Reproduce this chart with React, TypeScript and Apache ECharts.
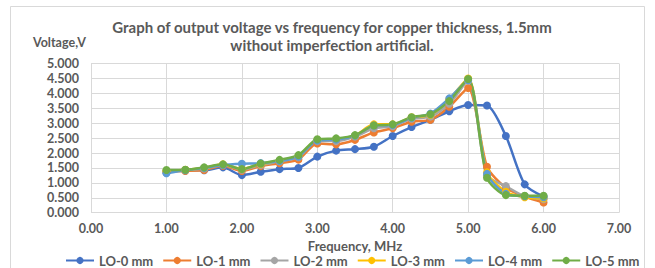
import React, { useEffect, useRef } from "react";
import * as echarts from "echarts";

const freq = [1.0, 1.25, 1.5, 1.75, 2.0, 2.25, 2.5, 2.75, 3.0, 3.25, 3.5, 3.75, 4.0, 4.25, 4.5, 4.75, 5.0, 5.25, 5.5, 5.75, 6.0];
const lo0 = [1.34, 1.43, 1.42, 1.52, 1.26, 1.37, 1.46, 1.5, 1.88, 2.08, 2.13, 2.21, 2.57, 2.87, 3.11, 3.4, 3.61, 3.59, 2.57, 0.95, 0.54];
const lo1 = [1.38, 1.4, 1.43, 1.57, 1.4, 1.56, 1.66, 1.78, 2.32, 2.29, 2.44, 2.69, 2.83, 3.05, 3.11, 3.55, 4.18, 1.54, 0.83, 0.54, 0.34];
const lo2 = [1.4, 1.43, 1.48, 1.6, 1.44, 1.6, 1.72, 1.86, 2.4, 2.4, 2.55, 2.83, 2.9, 3.15, 3.22, 3.65, 4.42, 1.25, 0.89, 0.55, 0.45];
const lo3 = [1.4, 1.44, 1.5, 1.62, 1.47, 1.63, 1.74, 1.9, 2.44, 2.46, 2.58, 2.96, 2.96, 3.2, 3.28, 3.8, 4.5, 1.35, 0.7, 0.52, 0.48];
const lo4 = [1.32, 1.42, 1.5, 1.6, 1.64, 1.66, 1.73, 1.88, 2.42, 2.45, 2.58, 2.92, 2.94, 3.18, 3.32, 3.83, 4.45, 1.3, 0.63, 0.55, 0.52];
const lo5 = [1.43, 1.44, 1.52, 1.62, 1.46, 1.65, 1.77, 1.93, 2.46, 2.49, 2.6, 2.92, 2.96, 3.2, 3.3, 3.74, 4.48, 1.17, 0.59, 0.57, 0.57];

const seriesNames = ["LO-0 mm", "LO-1 mm", "LO-2 mm", "LO-3 mm", "LO-4 mm", "LO-5 mm"];
const seriesData = [lo0, lo1, lo2, lo3, lo4, lo5];
const colors = ["#4472C4", "#ED7D31", "#A5A5A5", "#FFC000", "#5B9BD5", "#70AD47"];

const FONT = "Lato, 'Open Sans', sans-serif";
const GRAY = "#595959";

export default function App() {
  const ref = useRef<HTMLDivElement>(null);
  useEffect(() => {
    if (!ref.current) return;
    const chart = echarts.init(ref.current, undefined, { renderer: "svg" });
    chart.setOption({
      animation: false,
      backgroundColor: "#ffffff",
      textStyle: { fontFamily: FONT },
      title: {
        text: "Graph of output voltage vs frequency for copper thickness, 1.5mm\nwithout imperfection artificial.",
        left: 327,
        textAlign: "center",
        top: 13,
        textStyle: { fontSize: 15, fontWeight: "bold", color: GRAY, lineHeight: 18, fontFamily: FONT },
      },
      legend: {
        top: 249,
        left: 60,
        itemWidth: 28,
        itemHeight: 9,
        itemGap: 9,
        textStyle: { fontSize: 13, color: GRAY, fontWeight: "bold", fontFamily: FONT },
        data: seriesNames,
      },
      graphic: [
        {
          type: "rect",
          shape: { x: 10.5, y: 6.5, width: 634, height: 270, r: 0 },
          style: { fill: "none", stroke: "#d9d9d9", lineWidth: 1 },
          silent: true,
        },
        {
          type: "text",
          left: 33,
          top: 36,
          style: { text: "Voltage,V", fontSize: 12.5, fontWeight: "bold", fill: GRAY, fontFamily: FONT },
        },
      ],
      grid: { left: 91, right: 36, top: 63.5, bottom: 55.3, containLabel: false },
      xAxis: {
        type: "value",
        min: 0,
        max: 7,
        interval: 1,
        name: "Frequency, MHz",
        nameLocation: "middle",
        nameGap: 23,
        nameTextStyle: { fontSize: 13, fontWeight: "bold", color: GRAY, fontFamily: FONT },
        axisLine: { show: false },
        axisTick: { show: false },
        axisLabel: { formatter: (v: number) => v.toFixed(2), fontSize: 12.5, fontWeight: "bold", color: GRAY, margin: 9, fontFamily: FONT },
        splitLine: { show: true, lineStyle: { color: "#d9d9d9", width: 1 } },
      },
      yAxis: {
        type: "value",
        min: 0,
        max: 5,
        interval: 0.5,
        axisLine: { show: false },
        axisTick: { show: false },
        axisLabel: { formatter: (v: number) => v.toFixed(3), fontSize: 12.5, fontWeight: "bold", color: GRAY, margin: 12, fontFamily: FONT },
        splitLine: { show: true, lineStyle: { color: "#d9d9d9", width: 1 } },
      },
      series: seriesNames.map((name, i) => ({
        name,
        type: "line",
        smooth: 0.25,
        symbol: "circle",
        symbolSize: 8,
        color: colors[i],
        lineStyle: { width: 2.5, color: colors[i] },
        itemStyle: { color: colors[i] },
        data: freq.map((f, j) => [f, seriesData[i][j]]),
      })),
    });
    return () => chart.dispose();
  }, []);
  return <div ref={ref} style={{ position: "fixed", left: 0, top: 0, width: 655, height: 268 }} />;
}
